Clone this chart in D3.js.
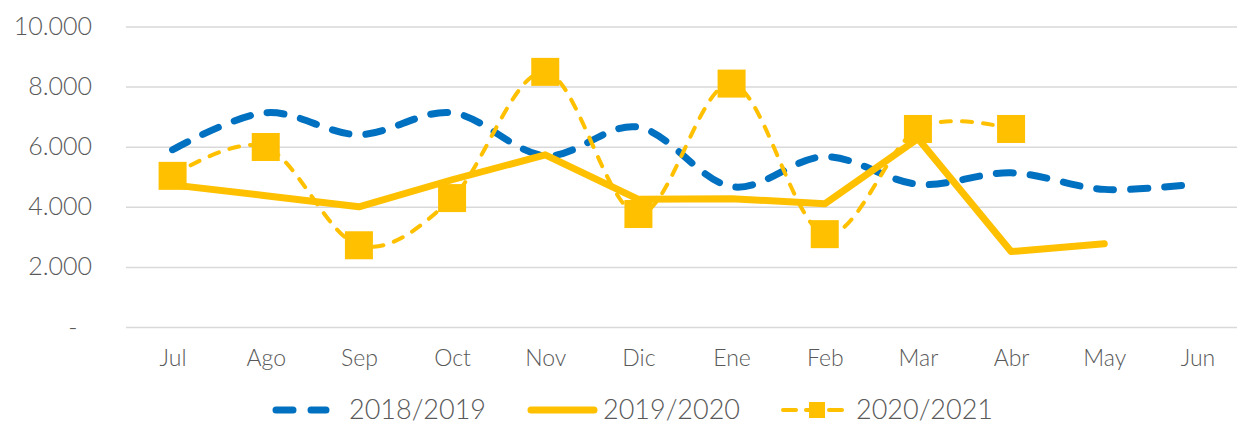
<!DOCTYPE html>
<html>
<head>
<meta charset="utf-8">
<script src="https://cdn.jsdelivr.net/npm/d3@7"></script>
<style>
  body { margin: 0; background: #fff; }
  text { font-family: Lato, "Open Sans", sans-serif; font-weight: 300; fill: #595959; }
</style>
</head>
<body>
<div id="chart"></div>
<script>
const width = 1237;
const height = 424;

const months = ["Jul", "Ago", "Sep", "Oct", "Nov", "Dic", "Ene", "Feb", "Mar", "Abr", "May", "Jun"];
const yTicks = [0, 2000, 4000, 6000, 8000, 10000];
const s1819 = [5900, 7130, 6400, 7130, 5700, 6650, 4670, 5670, 4750, 5130, 4580, 4770];
const s1920 = [4730, 4370, 4000, 4900, 5730, 4250, 4270, 4100, 6270, 2510, 2770, null];
const s2021 = [5030, 5990, 2720, 4290, 8490, 3760, 8100, 3090, 6590, 6590, null, null];
const seriesNames = ["2018/2019", "2019/2020", "2020/2021"];

const blue = "#0070C0";
const gold = "#FFC000";

const svg = d3.select("#chart")
    .append("svg")
    .attr("width", width)
    .attr("height", height);

const x = d3.scalePoint()
    .domain(months)
    .range([126, 1244])
    .padding(0.5);

const y = d3.scaleLinear()
    .domain([0, 10000])
    .range([327, 26.5]);

const fmt = d3.formatLocale({ decimal: ",", thousands: ".", grouping: [3], currency: ["", ""] }).format(",");

// gridlines + y labels
const yAxis = svg.append("g")
    .attr("transform", "translate(126,0)")
    .call(d3.axisLeft(y)
        .tickValues(yTicks)
        .tickSize(-(width - 126))
        .tickPadding(34)
        .tickFormat(d => d === 0 ? "-\u2007" : fmt(d)));
yAxis.select(".domain").remove();
yAxis.selectAll(".tick line").attr("stroke", "#D9D9D9").attr("stroke-width", 1.5);
yAxis.selectAll(".tick text")
    .attr("xml:space", "preserve")
    .style("font-size", "25px")
    .style("fill", "#595959");

// x labels
const xAxis = svg.append("g")
    .attr("transform", "translate(0,327)")
    .call(d3.axisBottom(x).tickSize(0).tickPadding(23));
xAxis.select(".domain").remove();
xAxis.selectAll(".tick text")
    .style("font-size", "23px")
    .style("fill", "#595959");

const smooth = d3.line()
    .defined(d => d.v != null)
    .x(d => x(d.m))
    .y(d => y(d.v))
    .curve(d3.curveCardinal.tension(0));

const straight = d3.line()
    .defined(d => d.v != null)
    .x(d => x(d.m))
    .y(d => y(d.v));

const toPts = arr => months.map((m, i) => ({ m, v: arr[i] }));

svg.append("path")
    .datum(toPts(s1819))
    .attr("fill", "none")
    .attr("stroke", blue)
    .attr("stroke-width", 7)
    .attr("stroke-linecap", "round")
    .attr("stroke-dasharray", "17,17")
    .attr("d", smooth);

svg.append("path")
    .datum(toPts(s1920))
    .attr("fill", "none")
    .attr("stroke", gold)
    .attr("stroke-width", 7)
    .attr("stroke-linecap", "round")
    .attr("stroke-linejoin", "round")
    .attr("d", straight);

const p2021 = toPts(s2021).filter(d => d.v != null);

svg.append("path")
    .datum(p2021)
    .attr("fill", "none")
    .attr("stroke", gold)
    .attr("stroke-width", 4)
    .attr("stroke-linecap", "round")
    .attr("stroke-dasharray", "10,11")
    .attr("d", smooth);

svg.append("g")
    .selectAll("rect")
    .data(p2021)
    .enter()
    .append("rect")
    .attr("x", d => x(d.m) - 14)
    .attr("y", d => y(d.v) - 14)
    .attr("width", 28)
    .attr("height", 28)
    .attr("fill", gold);

// legend
const legend = svg.append("g").attr("transform", "translate(0,410)");
const ly = 0;

legend.append("line")
    .attr("x1", 276).attr("x2", 326).attr("y1", ly).attr("y2", ly)
    .attr("stroke", blue).attr("stroke-width", 7)
    .attr("stroke-linecap", "round").attr("stroke-dasharray", "17,18");
legend.append("line")
    .attr("x1", 531).attr("x2", 594).attr("y1", ly).attr("y2", ly)
    .attr("stroke", gold).attr("stroke-width", 7)
    .attr("stroke-linecap", "round");
legend.append("line")
    .attr("x1", 783).attr("x2", 842).attr("y1", ly).attr("y2", ly)
    .attr("stroke", gold).attr("stroke-width", 4)
    .attr("stroke-linecap", "round").attr("stroke-dasharray", "13,10");
legend.append("rect")
    .attr("x", 809).attr("y", ly - 8).attr("width", 16).attr("height", 16)
    .attr("fill", gold);

legend.selectAll("text.lbl")
    .data(seriesNames)
    .enter()
    .append("text")
    .attr("class", "lbl")
    .attr("x", (d, i) => [349, 603, 856][i])
    .attr("y", 8.5)
    .style("font-size", "27px")
    .text(d => d);
</script>
</body>
</html>
